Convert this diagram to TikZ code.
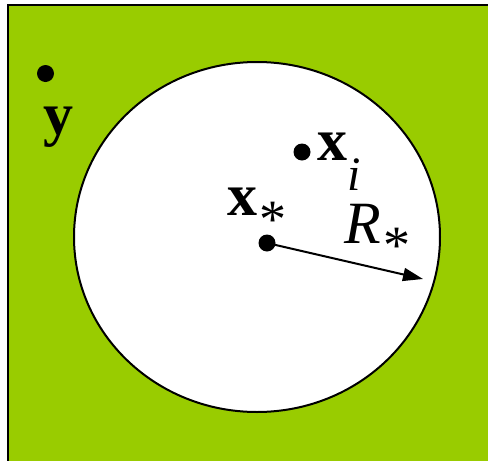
\documentclass[tikz,border=0pt]{standalone}
\usepackage{fontspec}
\setmainfont{Liberation Serif}
\usetikzlibrary{arrows.meta}
\definecolor{leaf}{RGB}{153,204,0}
\tikzset{
  dot/.style={circle,fill=black,inner sep=0pt,minimum size=8.5pt},
  lbl/.style={inner sep=0pt,font=\fontsize{30}{36}\selectfont},
}
\newcommand{\subast}[1]{\raisebox{#1}{\fontsize{27}{27}\selectfont *}}
\begin{document}
\begin{tikzpicture}[x=0.5pt,y=-0.5pt]
\useasboundingbox (0,0) rectangle (488,461);
\begin{scope}
\clip (0,0) rectangle (488,461);
\draw[line width=1pt,fill=leaf] (8,5) rectangle (500,480);
\end{scope}
\draw[line width=1pt,fill=white] (257,237) ellipse [x radius=183,y radius=175];
\node[dot] (y) at (45.5,73.5) {};
\node[lbl,anchor=base west] (ylab) at (43,134) {\bfseries y};
\node[dot] (xi) at (302,152) {};
\node[lbl,anchor=base west] (xilab) at (317,160) {\bfseries x\raisebox{-15pt}{\fontsize{24}{24}\selectfont\mdseries\itshape i}};
\node[dot] (xs) at (267,243) {};
\node[lbl,anchor=base west] (xslab) at (227,215) {\bfseries x\mdseries\hspace{1pt}\subast{-11pt}};
\coordinate (tip) at (423,279);
\draw[line width=1pt,-{Triangle[length=10pt,width=6.5pt]}] (xs.center) -- (tip);
\node[lbl,anchor=base west] (rlab) at (344,243) {\itshape R\upshape\hspace{1pt}\subast{-10.25pt}};
\end{tikzpicture}
\end{document}
